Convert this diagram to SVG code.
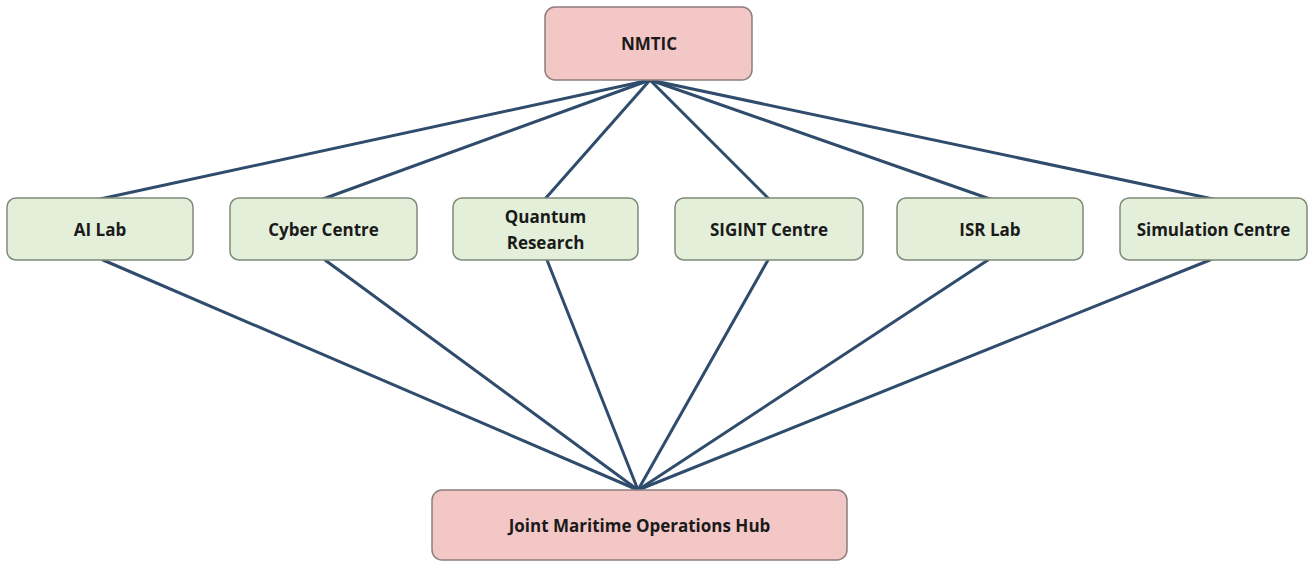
<svg xmlns="http://www.w3.org/2000/svg" width="1309" height="562" viewBox="0 0 1309 562">
<style>
.bg{fill:#ffffff}
.red rect{fill:#f4c7c7;stroke:#8c7d7d;stroke-width:1.5}
.green rect{fill:#e3efd9;stroke:#7f8a7a;stroke-width:1.5}
text{font-family:"Open Sans","Liberation Sans",sans-serif;font-weight:bold;font-size:17px;fill:#1a1a1a;text-anchor:middle;dominant-baseline:central}
.conn line{stroke:#2f4c6c;stroke-width:3;stroke-linecap:round}
</style>
<rect class="bg" x="0" y="0" width="1309" height="562"/>
<g id="connectors" class="conn">
<line x1="650" y1="80" x2="100" y2="199"/>
<line x1="650" y1="80" x2="323" y2="199"/>
<line x1="650" y1="80" x2="545" y2="199"/>
<line x1="650" y1="80" x2="769" y2="199"/>
<line x1="650" y1="80" x2="990" y2="199"/>
<line x1="650" y1="80" x2="1213" y2="199"/>
<line x1="103" y1="260" x2="638" y2="490"/>
<line x1="325" y1="260" x2="638" y2="490"/>
<line x1="547" y1="260" x2="638" y2="490"/>
<line x1="768" y1="260" x2="638" y2="490"/>
<line x1="988" y1="260" x2="638" y2="490"/>
<line x1="1210" y1="260" x2="638" y2="490"/>
</g>
<g id="nmtic" class="red">
<rect x="545" y="7" width="207" height="73" rx="10"/>
<text x="649" y="43">NMTIC</text>
</g>
<g id="ai-lab" class="green">
<rect x="7" y="198" width="186" height="62" rx="9"/>
<text x="100" y="229">AI Lab</text>
</g>
<g id="cyber-centre" class="green">
<rect x="230" y="198" width="187" height="62" rx="9"/>
<text x="323.5" y="229">Cyber Centre</text>
</g>
<g id="quantum-research" class="green">
<rect x="453" y="198" width="185" height="62" rx="9"/>
<text x="545.5" y="216">Quantum</text>
<text x="545.5" y="242">Research</text>
</g>
<g id="sigint-centre" class="green">
<rect x="675" y="198" width="188" height="62" rx="9"/>
<text x="769" y="229">SIGINT Centre</text>
</g>
<g id="isr-lab" class="green">
<rect x="897" y="198" width="186" height="62" rx="9"/>
<text x="990" y="229">ISR Lab</text>
</g>
<g id="simulation-centre" class="green">
<rect x="1120" y="198" width="187" height="62" rx="9"/>
<text x="1213.5" y="229">Simulation Centre</text>
</g>
<g id="joint-hub" class="red">
<rect x="432" y="490" width="415" height="70" rx="10"/>
<text x="639.5" y="525">Joint Maritime Operations Hub</text>
</g>
</svg>
